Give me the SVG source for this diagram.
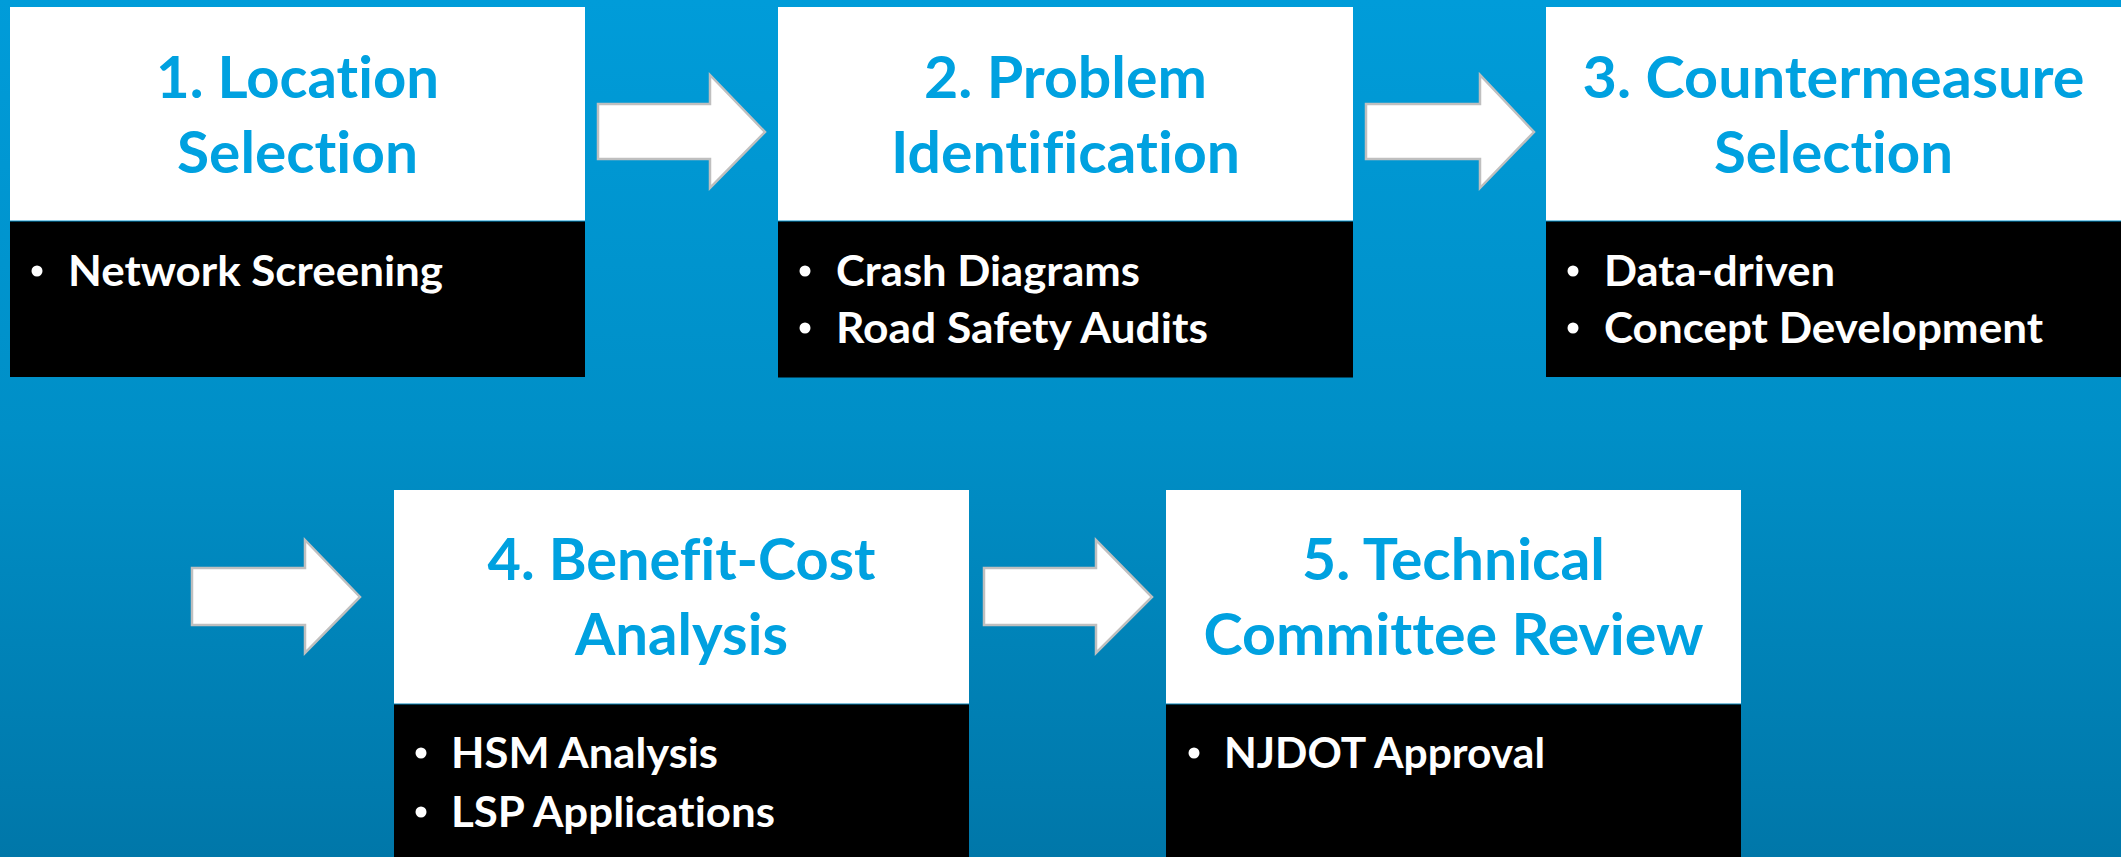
<svg xmlns="http://www.w3.org/2000/svg" width="2121" height="857" viewBox="0 0 2121 857">
  <defs>
    <linearGradient id="bg" x1="0" y1="0" x2="0" y2="1">
      <stop offset="0" stop-color="#009CD9"/>
      <stop offset="0.5" stop-color="#008FC7"/>
      <stop offset="1" stop-color="#0077A9"/>
    </linearGradient>
  </defs>
  <style>
    .head { fill: #FFFFFF; }
    .body { fill: #000000; }
    text { font-variant-ligatures: none; font-feature-settings: "liga" 0, "dlig" 0; }
    .title { font-family: Lato, "Liberation Sans", sans-serif; font-weight: 700; font-size: 57px; fill: #00A1E0; text-anchor: middle; }
    .item { font-family: Lato, "Liberation Sans", sans-serif; font-weight: 700; font-size: 42px; fill: #FFFFFF; }
    .dot { fill: #FFFFFF; }
    .arrow { fill: #FFFFFF; stroke: #BFBFBF; stroke-width: 2.5; stroke-linejoin: miter; }
  </style>

  <rect x="0" y="0" width="2121" height="857" fill="url(#bg)"/>

  <g id="step1">
    <rect class="head" x="10" y="7" width="575" height="213.5"/>
    <rect class="body" x="10" y="221.5" width="575" height="155.5"/>
    <text class="title" x="297.5" y="98" textLength="283" lengthAdjust="spacingAndGlyphs">1. Location</text>
    <text class="title" x="297.5" y="173" textLength="241" lengthAdjust="spacingAndGlyphs">Selection</text>
    <circle class="dot" cx="37" cy="271" r="5.5"/>
    <text class="item" x="68" y="286" textLength="375" lengthAdjust="spacingAndGlyphs">Network Screening</text>
  </g>

  <g id="step2">
    <rect class="head" x="778" y="7" width="575" height="213.5"/>
    <rect class="body" x="778" y="221.5" width="575" height="156"/>
    <text class="title" x="1065.5" y="98" textLength="283" lengthAdjust="spacingAndGlyphs">2. Problem</text>
    <text class="title" x="1065.5" y="173" textLength="349" lengthAdjust="spacingAndGlyphs">Identification</text>
    <circle class="dot" cx="805" cy="271" r="5.5"/>
    <text class="item" x="836" y="286" textLength="304" lengthAdjust="spacingAndGlyphs">Crash Diagrams</text>
    <circle class="dot" cx="805" cy="328" r="5.5"/>
    <text class="item" x="836" y="343" textLength="372" lengthAdjust="spacingAndGlyphs">Road Safety Audits</text>
  </g>

  <g id="step3">
    <rect class="head" x="1546" y="7" width="575" height="213.5"/>
    <rect class="body" x="1546" y="221.5" width="575" height="155.5"/>
    <text class="title" x="1833.5" y="98" textLength="502" lengthAdjust="spacingAndGlyphs">3. Countermeasure</text>
    <text class="title" x="1833.5" y="173" textLength="239" lengthAdjust="spacingAndGlyphs">Selection</text>
    <circle class="dot" cx="1573" cy="271" r="5.5"/>
    <text class="item" x="1604" y="286" textLength="231" lengthAdjust="spacingAndGlyphs">Data-driven</text>
    <circle class="dot" cx="1573" cy="328" r="5.5"/>
    <text class="item" x="1604" y="343" textLength="439" lengthAdjust="spacingAndGlyphs">Concept Development</text>
  </g>

  <g id="step4">
    <rect class="head" x="394" y="490" width="575" height="213.5"/>
    <rect class="body" x="394" y="704.5" width="575" height="160"/>
    <text class="title" x="681.5" y="580" textLength="388" lengthAdjust="spacingAndGlyphs">4. Benefit-Cost</text>
    <text class="title" x="681.5" y="655" textLength="213" lengthAdjust="spacingAndGlyphs">Analysis</text>
    <circle class="dot" cx="421" cy="753" r="5.5"/>
    <text class="item" x="451" y="768" textLength="267" lengthAdjust="spacingAndGlyphs">HSM Analysis</text>
    <circle class="dot" cx="421" cy="812" r="5.5"/>
    <text class="item" x="451" y="827" textLength="324" lengthAdjust="spacingAndGlyphs">LSP Applications</text>
  </g>

  <g id="step5">
    <rect class="head" x="1166" y="490" width="575" height="213.5"/>
    <rect class="body" x="1166" y="704.5" width="575" height="160"/>
    <text class="title" x="1453.5" y="580" textLength="303" lengthAdjust="spacingAndGlyphs">5. Technical</text>
    <text class="title" x="1453.5" y="655" textLength="500" lengthAdjust="spacingAndGlyphs">Committee Review</text>
    <circle class="dot" cx="1194" cy="753" r="5.5"/>
    <text class="item" x="1224" y="768" textLength="321" lengthAdjust="spacingAndGlyphs">NJDOT Approval</text>
  </g>

  <g id="connectors">
    <path class="arrow" d="M598,104 H710 V75 L765,132 L710,188 V159 H598 Z"/>
    <path class="arrow" d="M1366,104 H1480 V75 L1534,132 L1480,188 V159 H1366 Z"/>
    <path class="arrow" d="M192,568 H305 V540 L360,597 L305,653 V625 H192 Z"/>
    <path class="arrow" d="M984,568 H1096 V540 L1152,597 L1096,653 V625 H984 Z"/>
  </g>
</svg>
